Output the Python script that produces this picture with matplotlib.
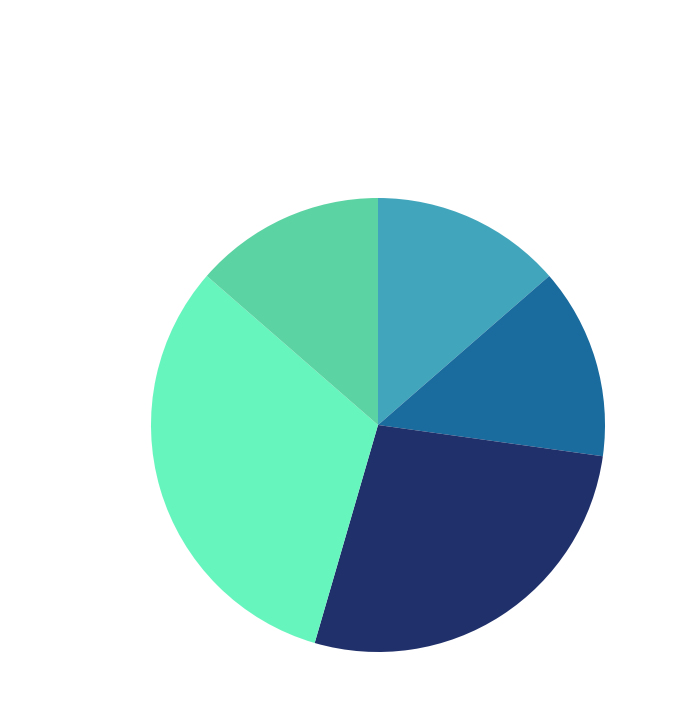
import matplotlib
matplotlib.use("Agg")
import matplotlib.pyplot as plt

labels = ["A", "B", "C", "D", "E"]
values = [13.6, 13.6, 27.3, 31.9, 13.6]
colors = ["#41a6bc", "#1a6b9e", "#20306b", "#67f5be", "#5bd3a2"]

fig = plt.figure(figsize=(6.93, 7.19), dpi=100)
ax = fig.add_axes([151 / 693, 67 / 719, 454 / 693, 454 / 719])
ax.pie(values, colors=colors, startangle=90, counterclock=False,
       radius=1, wedgeprops=dict(linewidth=0))
ax.set_xlim(-1, 1)
ax.set_ylim(-1, 1)
ax.set_aspect("equal")
ax.axis("off")

fig.savefig("out.png", dpi=100)
